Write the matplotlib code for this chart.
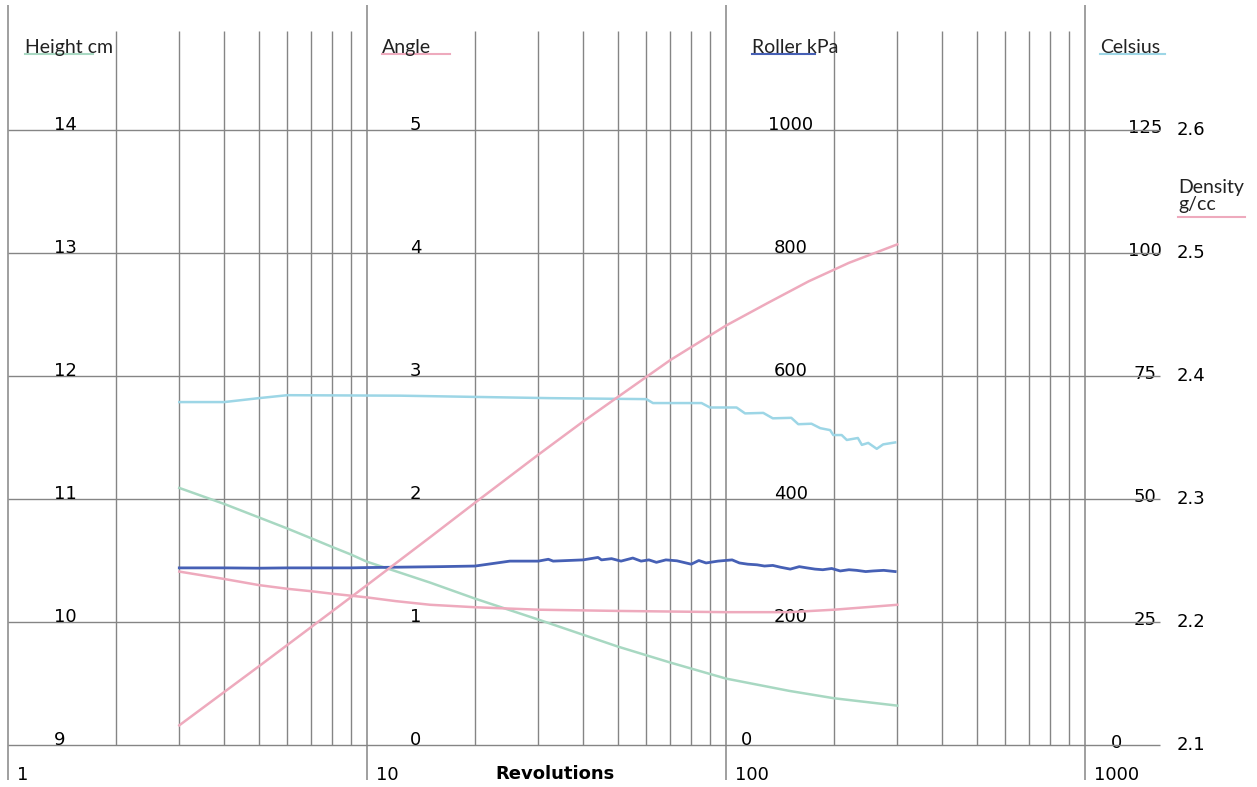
import numpy as np
import matplotlib
matplotlib.use("Agg")
import matplotlib.pyplot as plt
from matplotlib.transforms import blended_transform_factory
from matplotlib.lines import Line2D

# ---- data ----
rev_height = [3, 4, 5, 6, 7, 8, 9, 10, 15, 20, 30, 50, 70, 100, 150, 200, 300]
height_cm = [11.09, 10.96, 10.85, 10.76, 10.68, 10.61, 10.55, 10.49, 10.32, 10.19,
             10.02, 9.80, 9.67, 9.54, 9.44, 9.38, 9.32]

rev_angle = [3, 4, 5, 6, 7, 8, 10, 12, 15, 20, 30, 50, 100, 150, 200, 300]
angle = [1.41, 1.35, 1.30, 1.27, 1.25, 1.23, 1.20, 1.17, 1.14, 1.12, 1.10, 1.09,
         1.08, 1.08, 1.10, 1.14]

rev_density = [3, 5, 7, 10, 15, 20, 30, 40, 50, 70, 100, 130, 170, 220, 300]
density = [2.116, 2.164, 2.196, 2.230, 2.269, 2.297, 2.336, 2.363, 2.383, 2.413,
           2.441, 2.459, 2.477, 2.492, 2.507]

rev_roller = [3, 4, 5, 6, 7, 8, 9, 10, 16, 20, 25, 30, 32, 33, 40, 44, 45, 48, 51,
              55, 58, 61, 64, 68, 73, 80, 84, 88, 95, 104, 109, 115, 122, 128, 135,
              142, 151, 160, 168, 177, 186, 197, 208, 220, 231, 245, 257, 275, 296]
roller_kpa = [288, 288, 287.5, 288, 288, 288, 288, 288.5, 290, 291, 299, 299, 302,
              299, 301, 305, 301, 303, 299, 304, 299, 301, 297, 301, 299.5, 294, 300,
              296, 299, 301, 296, 294, 293, 291, 292, 289, 286, 290, 288, 286, 285,
              287, 283, 285, 284, 282, 283, 284, 282]

rev_celsius = [3, 4, 5, 6, 12.4, 32.3, 60, 62.6, 85.5, 90.2, 107, 113, 127, 135,
               152, 159, 173, 183, 195, 199, 210, 217, 233, 239, 249, 263, 274, 296]
celsius = [69.7, 69.7, 70.5, 71.1, 71.0, 70.5, 70.3, 69.5, 69.5, 68.6, 68.6, 67.4,
           67.5, 66.4, 66.5, 65.2, 65.3, 64.4, 64.0, 63.0, 63.0, 62.0, 62.4, 61.0,
           61.4, 60.2, 61.1, 61.5]

height_ticks = [9, 10, 11, 12, 13, 14]
angle_ticks = [0, 1, 2, 3, 4, 5]
roller_ticks = [0, 200, 400, 600, 800, 1000]
celsius_ticks = [0, 25, 50, 75, 100, 125]
density_ticks = ["2.1", "2.2", "2.3", "2.4", "2.5", "2.6"]
decades = [1, 10, 100, 1000]

# ---- colours ----
c_green = "#a8d8c2"
c_pink = "#eeaabd"
c_dblue = "#4660b5"
c_lblue = "#9dd6e6"
c_grid = "#858585"

W, H = 1257, 787
fig = plt.figure(figsize=(W / 100, H / 100), dpi=100)
ax = fig.add_axes([0, 0, 1, 1])
ax.set_xscale("log")

# pixel calibration: x=1 at 8px, 359px per decade; h=9 at 745px, 123px per cm
def px2rev(px):
    return 10 ** ((px - 8) / 359)

def py2h(py):
    return 9 + (745 - py) / 123

ax.set_xlim(px2rev(0), px2rev(W))
ylo, yhi = py2h(H), py2h(0)
ax.set_ylim(ylo, yhi)
ax.axis("off")

# grid
ax.hlines(height_ticks, 1, px2rev(1160), color=c_grid, lw=1.0, zorder=1)
minor = [k * d for d in [1, 10, 100] for k in range(2, 10)]
ax.vlines(minor, 9, py2h(31), color=c_grid, lw=1.0, zorder=1)
ax.vlines(decades, py2h(780), py2h(5), color=c_grid, lw=1.1, zorder=1)

# secondary scales sharing the same x, each with its own y range
def make_twin(scale, offset):
    t = ax.twinx()
    t.set_ylim(offset + (ylo - 9) * scale, offset + (yhi - 9) * scale)
    t.axis("off")
    return t

ax_angle = make_twin(1, 0)
ax_roller = make_twin(200, 0)
ax_cel = make_twin(25, 0)
ax_den = make_twin(0.1, 2.1)

ax.plot(rev_height, height_cm, color=c_green, lw=1.8, zorder=3)
ax_den.plot(rev_density, density, color=c_pink, lw=1.8, zorder=3)
ax_angle.plot(rev_angle, angle, color=c_pink, lw=1.8, zorder=3)
ax_cel.plot(rev_celsius, celsius, color=c_lblue, lw=1.8, zorder=3)
ax_roller.plot(rev_roller, roller_kpa, color=c_dblue, lw=2.0, zorder=3)

# value labels sitting on the grid lines
tr = blended_transform_factory(fig.transFigure, ax.transData)
fs = 13
for h in height_ticks:
    ax.text(54 / W, h, str(h), transform=tr, fontsize=fs, ha="left", va="baseline")
for i, v in enumerate(angle_ticks):
    ax.text(410 / W, height_ticks[i], str(v), transform=tr, fontsize=fs,
            ha="left", va="baseline")
for i, v in enumerate(roller_ticks):
    x = 747 if v == 0 else 791
    ax.text(x / W, height_ticks[i], str(v), transform=tr, fontsize=fs,
            ha="center", va="baseline")
for i, v in enumerate(celsius_ticks):
    x = 1117 if v == 0 else 1145
    ax.text(x / W, height_ticks[i] + 0.02, str(v), transform=tr, fontsize=fs,
            ha="center", va="center", zorder=0)
for i, v in enumerate(density_ticks):
    ax.text(1177 / W, height_ticks[i], v, transform=tr, fontsize=fs,
            ha="left", va="center")

# decade labels under the axis
for d in decades:
    px = 8 + 359 * np.log10(d)
    fig.text((px + 9) / W, 1 - 775 / H, str(d), fontsize=fs, ha="left", va="center")
fig.text(555 / W, 1 - 774 / H, "Revolutions", fontsize=13, fontweight="bold",
         ha="center", va="center")

# series titles with coloured underline
titles = [("Height cm", 25, 93, c_green), ("Angle", 382, 450, c_pink),
          ("Roller kPa", 752, 815, c_dblue), ("Celsius", 1100, 1165, c_lblue)]
for txt, x0, x1, col in titles:
    fig.text(x0 / W, 1 - 53 / H, txt, fontsize=14, family="Lato",
             ha="left", va="baseline", color="#222222")
    fig.add_artist(Line2D([x0 / W, x1 / W], [1 - 54 / H, 1 - 54 / H], color=col, lw=1.5))
fig.text(1178 / W, 1 - 193 / H, "Density", fontsize=14, family="Lato",
         ha="left", va="baseline", color="#222222")
fig.text(1178 / W, 1 - 210 / H, "g/cc", fontsize=14, family="Lato",
         ha="left", va="baseline", color="#222222")
fig.add_artist(Line2D([1178 / W, 1245 / W], [1 - 217 / H, 1 - 217 / H], color=c_pink, lw=1.5))

fig.savefig("out.png", dpi=100)
